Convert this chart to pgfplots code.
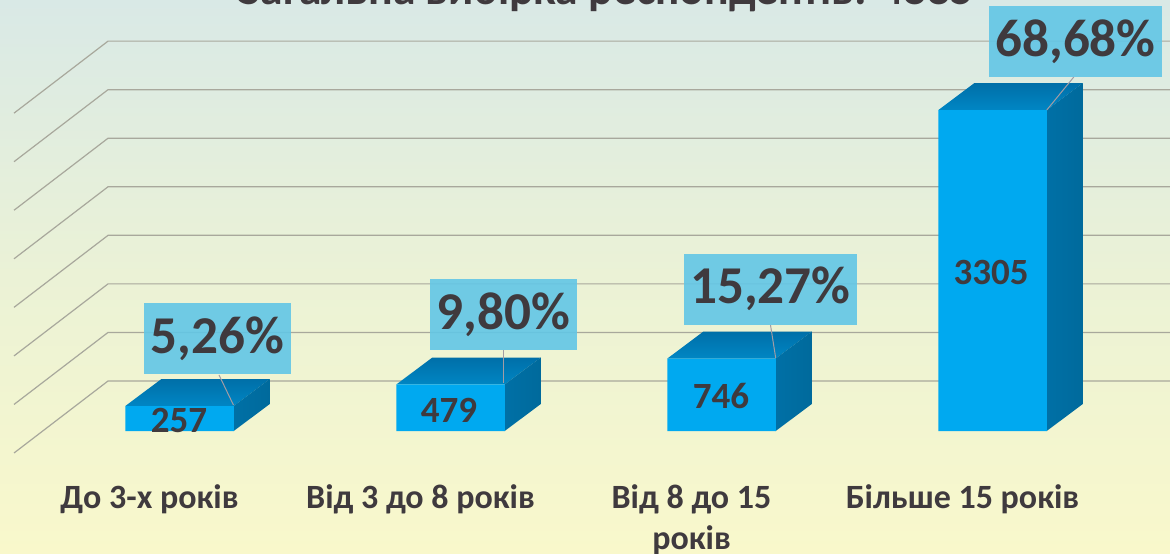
\documentclass[border=0pt]{standalone}
\usepackage{pgfplots}
\pgfplotsset{compat=1.18}
\usepackage{fontspec}
\setmainfont{Carlito}
\definecolor{txt}{HTML}{3F3A3E}
\definecolor{gridc}{HTML}{A8A89C}
\definecolor{front}{HTML}{00A9F0}
\definecolor{boxc}{HTML}{62C6E6}
\definecolor{lead}{HTML}{A39CA4}
\definecolor{bgt}{HTML}{D9E9E6}
\definecolor{bgm}{HTML}{EBF2D6}
\definecolor{bgb}{HTML}{F9F8CB}
\definecolor{topa}{HTML}{006FA8}
\definecolor{topb}{HTML}{0086C4}
\definecolor{sidea}{HTML}{0070A6}
\definecolor{sideb}{HTML}{006A9C}
\tikzset{px/.style args={#1/#2}{at={(rel axis cs:{#1/1170},{1-#2/553})}},
  pct/.style={fill=boxc,fill opacity=.9,text opacity=1,text=txt,inner sep=0pt,font=\fontsize{26.6}{28}\bfseries\selectfont,minimum height=35.5pt},
  val/.style={text=txt,inner sep=0pt,font=\fontsize{18.5}{20}\bfseries\selectfont}}
\begin{document}
\begin{tikzpicture}
\useasboundingbox (0,0) rectangle (585pt,276.5pt);
\begin{axis}[at={(0,0)},anchor=south west,scale only axis,width=585pt,height=276.5pt,
  xmin=-0.6624,xmax=3.6550,ymin=-1256.4,ymax=4438.7,
  axis line style={draw=none},major tick length=0pt,ytick=\empty,
  xtick={0,1,2,3},
  xticklabels={До 3-х років,Від 3 до 8 років,{Від 8 до 15\\років},Більше 15 років},
  xticklabel style={align=center,anchor=north,inner sep=0pt,xshift=-15pt,yshift=34.5pt,text=txt,font=\fontsize{17}{20.5}\bfseries\selectfont},
  axis background/.style={shade,top color=bgt,bottom color=bgb,middle color=bgm},
  clip=false]
\addplot[gridc,line width=.6pt,forget plot] coordinates {(-0.6107,3273.5) (-0.2638,4015) (3.655,4015)};
\addplot[gridc,line width=.6pt,forget plot] coordinates {(-0.6107,2773.5) (-0.2638,3515) (3.655,3515)};
\addplot[gridc,line width=.6pt,forget plot] coordinates {(-0.6107,2273.5) (-0.2638,3015) (3.655,3015)};
\addplot[gridc,line width=.6pt,forget plot] coordinates {(-0.6107,1773.5) (-0.2638,2515) (3.655,2515)};
\addplot[gridc,line width=.6pt,forget plot] coordinates {(-0.6107,1273.5) (-0.2638,2015) (3.655,2015)};
\addplot[gridc,line width=.6pt,forget plot] coordinates {(-0.6107,773.5) (-0.2638,1515) (3.655,1515)};
\addplot[gridc,line width=.6pt,forget plot] coordinates {(-0.6107,273.5) (-0.2638,1015) (3.655,1015)};
\addplot[gridc,line width=.6pt,forget plot] coordinates {(-0.6107,-226.5) (-0.2638,515) (3.655,515)};
% tops
\addplot[draw=none,top color=topa,bottom color=topb,forget plot] coordinates {(-0.2,257) (0.2,257) (0.333,535) (-0.067,535)} -- cycle;
\addplot[draw=none,top color=topa,bottom color=topb,forget plot] coordinates {(0.8,479) (1.2,479) (1.333,757) (0.933,757)} -- cycle;
\addplot[draw=none,top color=topa,bottom color=topb,forget plot] coordinates {(1.8,746) (2.2,746) (2.333,1024) (1.933,1024)} -- cycle;
\addplot[draw=none,top color=topa,bottom color=topb,forget plot] coordinates {(2.8,3305) (3.2,3305) (3.333,3583) (2.933,3583)} -- cycle;
% sides
\addplot[draw=none,left color=sidea,right color=sideb,forget plot] coordinates {(0.2,0) (0.333,278) (0.333,535) (0.2,257)} -- cycle;
\addplot[draw=none,left color=sidea,right color=sideb,forget plot] coordinates {(1.2,0) (1.333,278) (1.333,757) (1.2,479)} -- cycle;
\addplot[draw=none,left color=sidea,right color=sideb,forget plot] coordinates {(2.2,0) (2.333,278) (2.333,1024) (2.2,746)} -- cycle;
\addplot[draw=none,left color=sidea,right color=sideb,forget plot] coordinates {(3.2,0) (3.333,278) (3.333,3583) (3.2,3305)} -- cycle;
% fronts
\addplot[ybar,bar width=54.25pt,bar shift=0pt,draw=none,fill=front] coordinates {(0,257) (1,479) (2,746) (3,3305)};
% leaders
\addplot[lead,line width=.5pt,forget plot] coordinates {(0.1457,577) (0.199,268)};
\addplot[lead,line width=.5pt,forget plot] coordinates {(1.197,834) (1.197,494)};
\addplot[lead,line width=.5pt,forget plot] coordinates {(2.1808,1091) (2.2,752)};
\addplot[lead,line width=.5pt,forget plot] coordinates {(3.3,3646) (3.2,3305)};
% value labels
\node[val,px=179/420] {257};
\node[val,px=449/410] {479};
\node[val,px=721/396] {746};
\node[val,px=991/272] {3305};
% percent boxes
\node[pct,px=217.5/339,minimum width=73.5pt] {5,26\%};
\node[pct,px=503.5/314.5,minimum width=73.5pt] {9,80\%};
\node[pct,px=770.5/289,minimum width=86.5pt] {15,27\%};
\node[pct,px=1075.5/41.5,minimum width=86.5pt] {68,68\%};
% title
\node[anchor=base,inner sep=0pt,text=txt,font=\fontsize{22.8}{24}\bfseries\selectfont] at (rel axis cs:{606/1170},{1-5/553}) {Загальна вибірка респондентів: 4885};
\end{axis}
\end{tikzpicture}
\end{document}
